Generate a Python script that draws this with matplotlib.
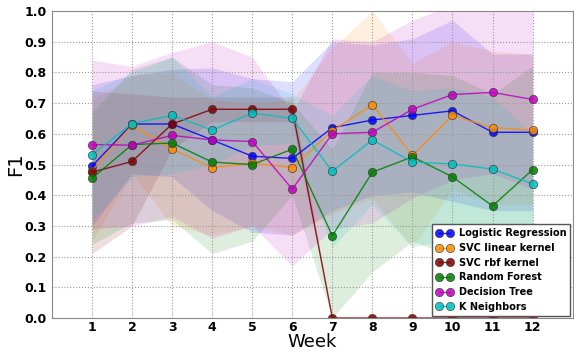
import matplotlib

matplotlib.use("Agg")

import matplotlib.pyplot as plt
import numpy as np

weeks = np.arange(1, 13)

models = [
    "Logistic Regression",
    "SVC linear kernel",
    "SVC rbf kernel",
    "Random Forest",
    "Decision Tree",
    "K Neighbors",
]
colors = ["#0000ff", "#ff8c00", "#800000", "#008000", "#c000c0", "#00bfbf"]

f1_mean = {
    "Logistic Regression": [0.495, 0.632, 0.632, 0.580, 0.527, 0.520, 0.620, 0.645, 0.660, 0.675, 0.605, 0.605],
    "SVC linear kernel": [0.480, 0.628, 0.550, 0.490, 0.505, 0.490, 0.610, 0.695, 0.530, 0.660, 0.620, 0.612],
    "SVC rbf kernel": [0.475, 0.510, 0.632, 0.680, 0.680, 0.680, 0.0, 0.0, 0.0, 0.0, 0.0, 0.0],
    "Random Forest": [0.455, 0.565, 0.570, 0.508, 0.500, 0.550, 0.268, 0.475, 0.525, 0.460, 0.365, 0.483],
    "Decision Tree": [0.565, 0.563, 0.595, 0.580, 0.575, 0.420, 0.600, 0.605, 0.680, 0.728, 0.735, 0.712],
    "K Neighbors": [0.532, 0.633, 0.660, 0.612, 0.668, 0.650, 0.478, 0.580, 0.508, 0.502, 0.485, 0.437],
}

f1_upper = {
    "Logistic Regression": [0.76, 0.79, 0.81, 0.815, 0.78, 0.77, 0.90, 0.89, 0.91, 0.97, 0.86, 0.86],
    "SVC linear kernel": [0.71, 0.79, 0.80, 0.71, 0.70, 0.71, 0.88, 1.00, 0.83, 0.90, 0.87, 0.86],
    "SVC rbf kernel": [0.74, 0.73, 0.72, 0.72, 0.72, 0.72, 0.0, 0.0, 0.0, 0.0, 0.0, 0.0],
    "Random Forest": [0.67, 0.81, 0.85, 0.76, 0.75, 0.70, 0.55, 0.80, 0.80, 0.79, 0.73, 0.82],
    "Decision Tree": [0.84, 0.82, 0.865, 0.90, 0.85, 0.67, 0.91, 0.90, 0.97, 1.02, 1.03, 1.02],
    "K Neighbors": [0.74, 0.80, 0.85, 0.72, 0.78, 0.73, 0.66, 0.79, 0.74, 0.75, 0.72, 0.60],
}

f1_lower = {
    "Logistic Regression": [0.30, 0.47, 0.46, 0.35, 0.28, 0.27, 0.35, 0.40, 0.41, 0.38, 0.35, 0.35],
    "SVC linear kernel": [0.25, 0.47, 0.30, 0.27, 0.30, 0.27, 0.34, 0.39, 0.23, 0.42, 0.37, 0.37],
    "SVC rbf kernel": [0.21, 0.30, 0.55, 0.64, 0.64, 0.64, 0.0, 0.0, 0.0, 0.0, 0.0, 0.0],
    "Random Forest": [0.24, 0.31, 0.32, 0.21, 0.25, 0.40, 0.0, 0.15, 0.25, 0.20, 0.05, 0.15],
    "Decision Tree": [0.29, 0.30, 0.33, 0.26, 0.30, 0.17, 0.29, 0.31, 0.39, 0.45, 0.47, 0.42],
    "K Neighbors": [0.32, 0.46, 0.47, 0.50, 0.56, 0.57, 0.23, 0.37, 0.23, 0.26, 0.25, 0.27],
}

fig = plt.figure(figsize=(5.74, 3.52), dpi=100)
ax = fig.add_axes([0.0906, 0.0966, 0.907, 0.872])

for name, color in zip(models, colors):
    ax.fill_between(weeks, f1_lower[name], f1_upper[name], color=color, alpha=0.13, linewidth=0)
    ax.plot(weeks, f1_mean[name], "-o", color=color, label=name, linewidth=1,
            markersize=6, markeredgecolor="#333333", markeredgewidth=0.5, alpha=0.85)

ax.set_xlim(0, 13)
ax.set_ylim(0, 1.0)
ax.set_xticks(weeks)
ax.set_yticks(np.arange(0, 1.01, 0.1))
ax.set_yticklabels([f"{v:.1f}" for v in np.arange(0, 1.01, 0.1)])
ax.tick_params(length=0, labelsize=9)
ax.tick_params(axis="x", pad=2)
ax.tick_params(axis="y", pad=4)
for lbl in ax.get_xticklabels() + ax.get_yticklabels():
    lbl.set_fontweight("bold")
ax.grid(True, linestyle=":", color="#999999", linewidth=0.8)
for spine in ax.spines.values():
    spine.set_color("#888888")

ax.set_xlabel("Week", fontsize=13)
ax.set_ylabel("F1", fontsize=14)
ax.xaxis.set_label_coords(0.5, -0.05)
ax.yaxis.set_label_coords(-0.052, 0.5)

leg = ax.legend(loc="lower right", numpoints=2, fancybox=False, borderaxespad=0.25,
                prop={"weight": "bold", "size": 7}, handlelength=1.7, labelspacing=0.48,
                borderpad=0.4, handletextpad=0.6, framealpha=1)
leg.get_frame().set_edgecolor("#555555")

fig.savefig("out.png", dpi=100)
